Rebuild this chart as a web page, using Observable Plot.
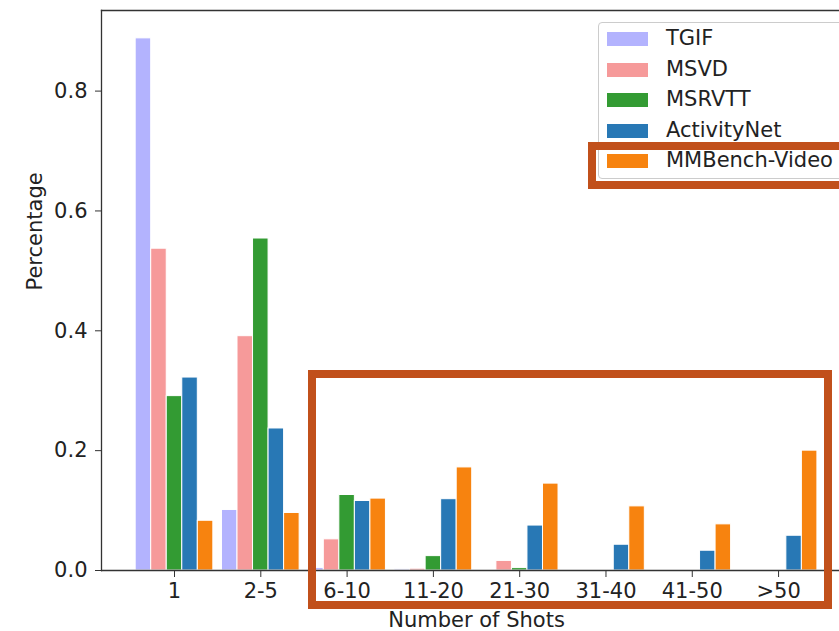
<!DOCTYPE html>
<html>
<head>
<meta charset="utf-8">
<script src="https://cdn.jsdelivr.net/npm/d3@7"></script>
<script src="https://cdn.jsdelivr.net/npm/@observablehq/plot@0.6"></script>
<style>
  html, body { margin: 0; padding: 0; background: #fff; }
  #wrap { position: relative; width: 839px; height: 631px; overflow: hidden; font-family: "DejaVu Sans", sans-serif; }
  #legend { position: absolute; left: 598px; top: 22px; width: 260px; height: 157px; border: 1px solid #cccccc; border-radius: 4px; background: rgba(255,255,255,0.85); box-sizing: border-box; }
  .lrow { position: absolute; left: 8px; height: 15px; }
  .sw { position: absolute; left: 0; top: 0; width: 41px; height: 14px; }
  .lt { position: absolute; left: 59px; top: -6px; font-size: 21px; color: #222; white-space: nowrap; line-height: 25px; }
  .hl { position: absolute; border: 8px solid #c1501b; box-sizing: border-box; }
</style>
</head>
<body>
<div id="wrap"></div>
<script>
const categories = ["1", "2-5", "6-10", "11-20", "21-30", "31-40", "41-50", ">50"];
const seriesNames = ["TGIF", "MSVD", "MSRVTT", "ActivityNet", "MMBench-Video"];
const seriesColors = ["#b3b3fe", "#f69a9a", "#339b33", "#2878b5", "#f7830f"];
const TGIF        = [0.888, 0.101, 0.004, 0.002, 0.000, 0.000, 0.000, 0.000];
const MSVD        = [0.537, 0.391, 0.052, 0.003, 0.016, 0.000, 0.000, 0.000];
const MSRVTT      = [0.291, 0.554, 0.126, 0.024, 0.004, 0.000, 0.000, 0.000];
const ActivityNet = [0.322, 0.237, 0.116, 0.119, 0.075, 0.043, 0.033, 0.058];
const MMBench     = [0.083, 0.096, 0.120, 0.172, 0.145, 0.107, 0.077, 0.200];
const yTicks = [0.0, 0.2, 0.4, 0.6, 0.8];

const seriesValues = [TGIF, MSVD, MSRVTT, ActivityNet, MMBench];
const barW = 0.18;
const rows = [];
seriesValues.forEach((vals, k) => {
  vals.forEach((v, i) => {
    const c = i + (k - 2) * barW;
    rows.push({series: seriesNames[k], x1: c - barW / 2, x2: c + barW / 2, value: v});
  });
});

const chart = Plot.plot({
  width: 839,
  height: 631,
  marginTop: 10,
  marginBottom: 61,
  marginLeft: 101,
  marginRight: 0,
  style: {fontFamily: "DejaVu Sans, sans-serif", fontSize: "21px", color: "#222", background: "white"},
  x: {domain: [-0.846, 7.706], axis: null},
  y: {domain: [0, 0.9345], axis: null},
  color: {domain: seriesNames, range: seriesColors},
  marks: [
    Plot.rectY(rows, {x1: "x1", x2: "x2", y: "value", fill: "series", stroke: "white", strokeWidth: 1}),
    Plot.axisY(yTicks, {tickSize: 6, tickPadding: 8, tickFormat: d3.format(".1f"), label: null, fontSize: 21, stroke: "#333"}),
    Plot.axisX(d3.range(categories.length), {tickSize: 7, tickPadding: 6, tickFormat: i => categories[i], label: null, fontSize: 21, stroke: "#333"}),
    Plot.frame({anchor: "top", stroke: "#333", strokeWidth: 1.3}),
    Plot.frame({anchor: "left", stroke: "#333", strokeWidth: 1.3}),
    Plot.ruleY([0], {stroke: "#333", strokeWidth: 1.3}),
    Plot.text(["Number of Shots"], {x: 3.5, frameAnchor: "bottom", dy: 56, fontSize: 21, fill: "#222"}),
    Plot.text(["Percentage"], {frameAnchor: "left", dx: -66, rotate: -90, fontSize: 21, fill: "#222"})
  ]
});
const wrap = document.getElementById("wrap");
wrap.appendChild(chart);

const legend = document.createElement("div");
legend.id = "legend";
seriesNames.forEach((name, k) => {
  const row = document.createElement("div");
  row.className = "lrow";
  row.style.top = (9 + k * 30.5) + "px";
  const sw = document.createElement("div");
  sw.className = "sw";
  sw.style.background = seriesColors[k];
  const t = document.createElement("div");
  t.className = "lt";
  t.textContent = name;
  row.appendChild(sw); row.appendChild(t);
  legend.appendChild(row);
});
wrap.appendChild(legend);

const box1 = document.createElement("div");
box1.className = "hl";
Object.assign(box1.style, {left: "588px", top: "142px", width: "270px", height: "47px"});
wrap.appendChild(box1);
const box2 = document.createElement("div");
box2.className = "hl";
Object.assign(box2.style, {left: "308px", top: "370px", width: "524px", height: "239px"});
wrap.appendChild(box2);
</script>
</body>
</html>
